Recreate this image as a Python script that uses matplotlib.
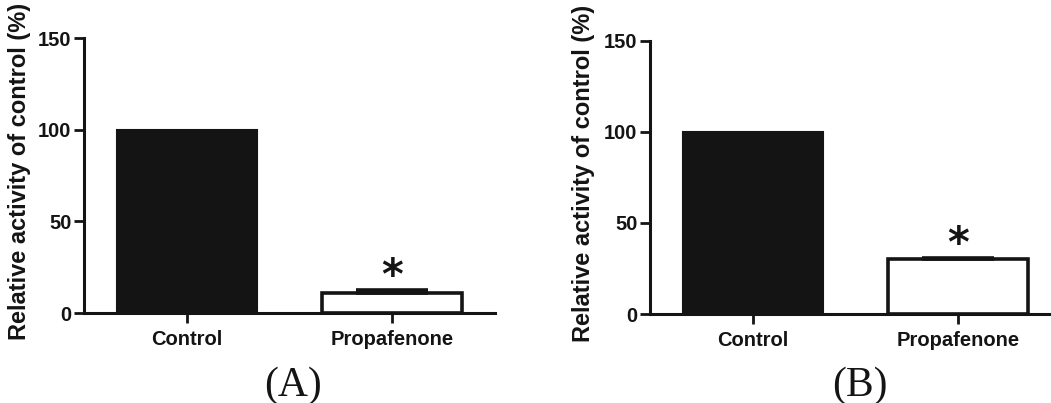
import matplotlib
matplotlib.use("Agg")
import matplotlib.pyplot as plt

plt.rcParams['font.family'] = ['Liberation Sans', 'DejaVu Sans']

categories = ["Control", "Propafenone"]
means_A = [100.0, 11.0]
sems_A = [0.0, 1.4]
means_B = [100.0, 30.0]
sems_B = [0.0, 0.9]
yticks = [0, 50, 100, 150]
ylabel = "Relative activity of control (%)"
panel_labels = ["(A)", "(B)"]

W, H = 1051, 403
fig = plt.figure(figsize=(W / 100, H / 100), dpi=100)

ink = "#141414"

def panel(rect, means, sems, plabel, plabel_x, label_x):
    ax = fig.add_axes(rect)
    x = list(range(len(categories)))
    ax.bar(x[0], means[0], width=0.68, color=ink, edgecolor=ink, linewidth=1.5, zorder=2)
    ax.bar(x[1], means[1], width=0.68, color="white", edgecolor=ink, linewidth=2.6, zorder=2)
    for xi, m, s in zip(x, means, sems):
        if s > 0:
            ax.errorbar(xi, m, yerr=[[0], [s]], fmt="none", ecolor=ink,
                        elinewidth=2.6, capsize=26, capthick=2.6, zorder=3)
    ax.text(x[1], means[1] + sems[1] + 7, "*", ha="center", va="center",
            fontsize=30, fontweight="bold", color=ink, family="DejaVu Sans")
    ax.set_xlim(-0.5, 1.5)
    ax.set_ylim(0, 150)
    ax.set_yticks(yticks)
    ax.set_xticks(x)
    ax.set_xticklabels(categories, fontsize=14.5, fontweight="bold", color=ink)
    for lab in ax.get_yticklabels():
        lab.set_fontsize(14.5)
        lab.set_fontweight("bold")
        lab.set_color(ink)
    ax.tick_params(axis="both", direction="out", length=7, width=2, color=ink)
    ax.tick_params(axis="x", pad=5)
    ax.tick_params(axis="y", pad=2)
    for sp in ["top", "right"]:
        ax.spines[sp].set_visible(False)
    for sp in ["left", "bottom"]:
        ax.spines[sp].set_linewidth(2.2)
        ax.spines[sp].set_color(ink)
    ax.set_ylabel(ylabel, fontsize=17, fontweight="bold", color=ink)
    ax.yaxis.set_label_coords(label_x, 0.515)
    fig.text(plabel_x, 7 / H, plabel, ha="center", va="baseline",
             fontsize=30, family="Liberation Serif", color=ink)
    return ax

panel([84 / W, 0.2233, 411 / W, 0.6824], means_A, sems_A, panel_labels[0], 293 / W, -0.129)
panel([650 / W, 0.2208, 411 / W, 0.6782], means_B, sems_B, panel_labels[1], 860 / W, -0.134)

fig.savefig("out.png", dpi=100, facecolor="white")
